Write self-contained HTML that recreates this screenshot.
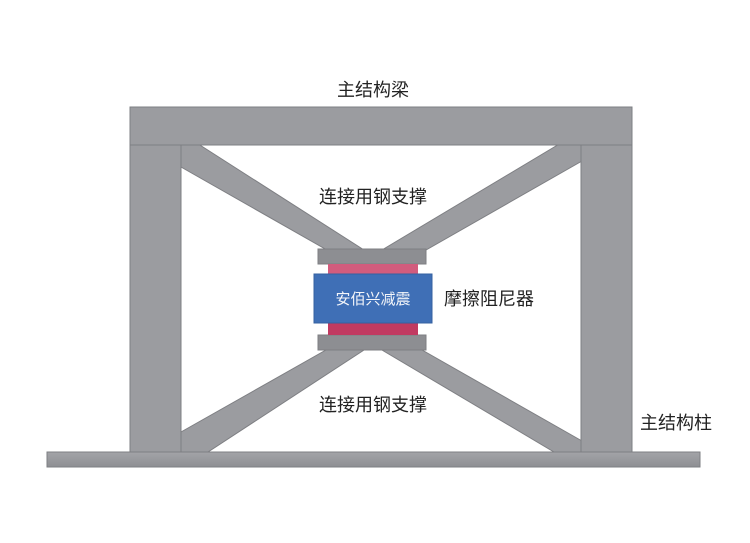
<!DOCTYPE html>
<html><head><meta charset="utf-8"><style>
html,body{margin:0;padding:0;background:#fff;}
svg text{font-family:"Liberation Sans","Noto Sans CJK SC",sans-serif;}
</style></head><body>
<svg width="750" height="538" viewBox="0 0 750 538" xmlns="http://www.w3.org/2000/svg">
<defs>
<linearGradient id="g" x1="0" y1="0" x2="0" y2="1"><stop offset="0" stop-color="#a3a4a8"/><stop offset="1" stop-color="#8e8f93"/></linearGradient>
</defs>
<g fill="#9b9ca0" stroke="#7e7f83" stroke-width="1">
<polygon points="181,140 192,140 364,250 327,250 181,167"/>
<polygon points="566,140 582,140 582,161 426,250 382,250"/>
<polygon points="326,350 364,350 208,452 181,452 181,432"/>
<polygon points="382,350 422,350 582,441 582,452 554,452"/>
<rect x="130" y="145" width="51" height="307"/>
<rect x="581" y="145" width="51" height="307"/>
<rect x="130" y="107" width="502" height="38"/>
<rect x="47" y="452" width="653" height="15" fill="url(#g)"/>
<rect x="318" y="249" width="108" height="15" fill="#8d8e92"/>
<rect x="318" y="335" width="108" height="15" fill="#8d8e92"/>
</g>
<rect x="328" y="264" width="90" height="11" fill="#d25c7d"/>
<rect x="328" y="323" width="90" height="12" fill="#c13a61"/>
<rect x="314" y="274" width="118" height="49" fill="#3f6fb6" stroke="#3560a0" stroke-width="1"/>
<text x="373" y="304" font-size="15" fill="#f4f6fa" text-anchor="middle">安佰兴减震</text>
<g font-size="18" fill="#222">
<text x="373" y="96" text-anchor="middle">主结构梁</text>
<text x="373" y="203" text-anchor="middle">连接用钢支撑</text>
<text x="373" y="411" text-anchor="middle">连接用钢支撑</text>
<text x="444" y="305">摩擦阻尼器</text>
<text x="640" y="429">主结构柱</text>
</g>
</svg>
</body></html>
